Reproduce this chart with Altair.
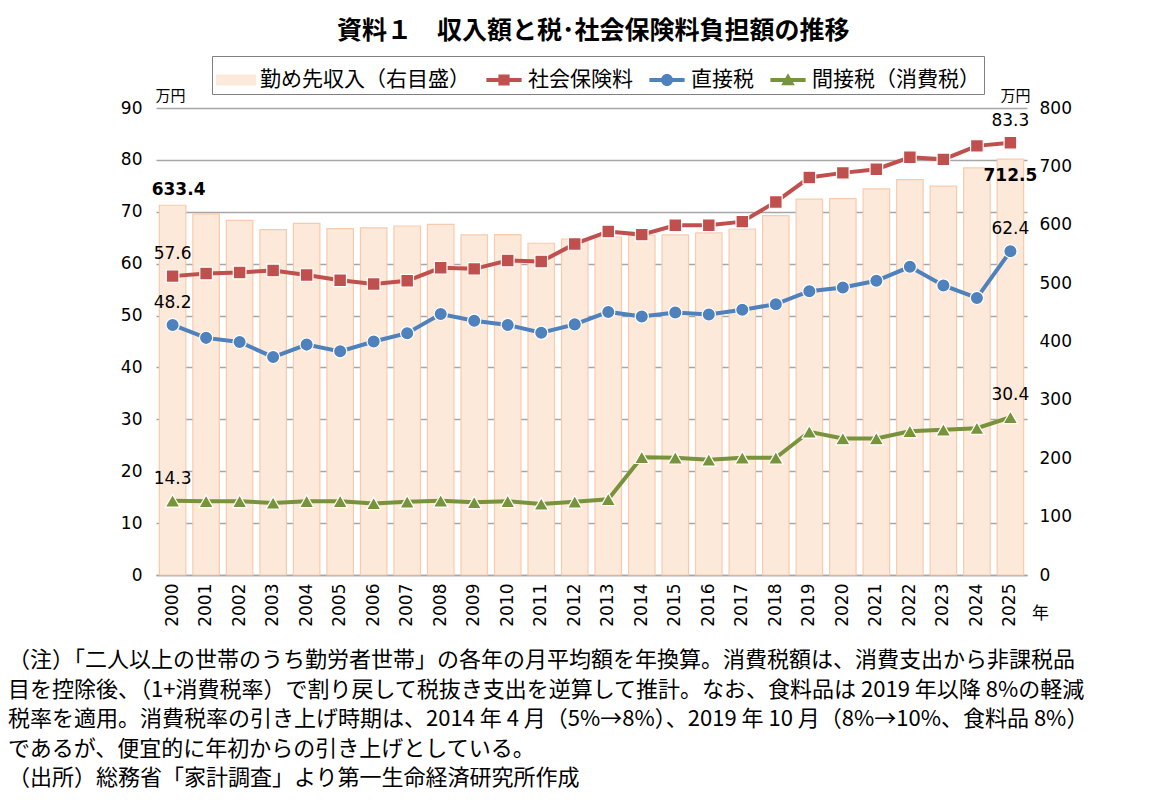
import altair as alt
import pandas as pd

years = ["2000", "2001", "2002", "2003", "2004", "2005", "2006", "2007", "2008",
         "2009", "2010", "2011", "2012", "2013", "2014", "2015", "2016", "2017",
         "2018", "2019", "2020", "2021", "2022", "2023", "2024", "2025"]

# 勤め先収入 (右目盛, 万円)
income = [633.4, 618.5, 607.6, 591.6, 602.5, 593.3, 594.5, 597.9, 600.8, 582.5,
          583.0, 568.3, 575.6, 579.0, 582.0, 582.5, 586.0, 592.7, 615.6, 644.0,
          644.7, 661.3, 677.3, 666.0, 697.3, 712.5]
# 社会保険料 (左目盛, 万円)
social = [57.6, 58.1, 58.3, 58.7, 57.8, 56.8, 56.1, 56.7, 59.2, 59.0,
          60.6, 60.4, 63.8, 66.2, 65.6, 67.4, 67.4, 68.1, 71.9, 76.6,
          77.5, 78.2, 80.5, 80.1, 82.7, 83.3]
# 直接税
direct = [48.2, 45.7, 44.9, 42.0, 44.4, 43.1, 45.0, 46.6, 50.3, 49.0,
          48.2, 46.7, 48.3, 50.7, 49.8, 50.6, 50.2, 51.1, 52.2, 54.7,
          55.4, 56.7, 59.4, 55.8, 53.4, 62.4]
# 間接税（消費税）
indirect = [14.3, 14.2, 14.2, 13.9, 14.2, 14.2, 13.8, 14.1, 14.3, 14.0,
            14.2, 13.7, 14.1, 14.6, 22.7, 22.6, 22.2, 22.6, 22.6, 27.6,
            26.3, 26.3, 27.7, 28.0, 28.3, 30.4]

series_names = ["勤め先収入（右目盛）", "社会保険料", "直接税", "間接税（消費税）"]
series_colors = ["#FDE9D9", "#C0504D", "#4F81BD", "#77933C"]
point_shapes = ["square", "circle", "triangle-up"]
point_sizes = [160, 175, 210]

# legend icons: bar box, and line + marker
legend_icons = [
    "M-1,-0.28H1V0.28H-1Z",
    "M-0.88,-0.1H0.88V0.1H-0.88Z M-0.28,-0.28H0.28V0.28H-0.28Z",
    "M-0.88,-0.1H0.88V0.1H-0.88Z M0.3,0A0.3,0.3 0 1,1 -0.3,0A0.3,0.3 0 1,1 0.3,0Z",
    "M-0.88,-0.1H0.88V0.1H-0.88Z M0,-0.34L0.34,0.26H-0.34Z",
]

title_text = "資料１　収入額と税･社会保険料負担額の推移"
notes = [
    "（注）「二人以上の世帯のうち勤労者世帯」の各年の月平均額を年換算。消費税額は、消費支出から非課税品",
    "目を控除後、（1+消費税率）で割り戻して税抜き支出を逆算して推計。なお、食料品は 2019 年以降 8%の軽減",
    "税率を適用。消費税率の引き上げ時期は、2014 年 4 月（5%→8%）、2019 年 10 月（8%→10%、食料品 8%）",
    "であるが、便宜的に年初からの引き上げとしている。",
    "（出所）総務省「家計調査」より第一生命経済研究所作成",
]

FONT = "Noto Sans CJK JP"
NUM_FONT = "DejaVu Sans"

bars_df = pd.DataFrame({"year": years, "value": income})
lines_df = pd.concat([
    pd.DataFrame({"year": years, "value": vals, "series": name})
    for name, vals in zip(series_names[1:], [social, direct, indirect])
])
legend_df = pd.DataFrame({"series": series_names})

x_axis = alt.Axis(
    title="年", titleAngle=0, titleX=884, titleY=30, titleFont=FONT,
    titleFontSize=17, titleFontWeight="normal", titleColor="black",
    labelAngle=-90, labelFont=NUM_FONT, labelFontSize=17, labelColor="black",
    labelPadding=8, ticks=False, domainColor="#A6A6A6", domainWidth=1.5, grid=False,
)
x_enc = alt.X("year:O", scale=alt.Scale(paddingInner=0.21, paddingOuter=0.1), axis=x_axis)

left_axis = alt.Axis(
    title="万円", titleAngle=0, titleX=14, titleY=-13, titleAlign="center",
    titleBaseline="middle", titleFont=FONT, titleFontSize=15,
    titleFontWeight="normal", titleColor="black",
    values=[0, 10, 20, 30, 40, 50, 60, 70, 80, 90],
    labelFont=NUM_FONT, labelFontSize=17, labelColor="black", labelPadding=14,
    ticks=False, domain=False, grid=True, gridColor="#A6A6A6", gridWidth=1.5,
)
right_axis = alt.Axis(
    orient="right", title="万円", titleAngle=0, titleX=-12, titleY=-13,
    titleAlign="center", titleBaseline="middle", titleFont=FONT,
    titleFontSize=15, titleFontWeight="normal", titleColor="black",
    values=[0, 100, 200, 300, 400, 500, 600, 700, 800],
    labelFont=NUM_FONT, labelFontSize=17, labelColor="black", labelPadding=12,
    ticks=False, domain=False, grid=False,
)
y_left = alt.Y("value:Q", scale=alt.Scale(domain=[0, 90], nice=False), axis=left_axis)
y_right = alt.Y("value:Q", scale=alt.Scale(domain=[0, 800], nice=False), axis=right_axis)

# bars on the right axis
bars = alt.Chart(bars_df).mark_bar(
    color=series_colors[0], stroke="#F8CBAD", strokeWidth=1.2
).encode(x=x_enc, y=y_right)

bar_first = alt.Chart(bars_df).transform_filter(
    alt.datum.year == years[0]
).mark_text(dy=-15, dx=6, font=NUM_FONT, fontSize=17, fontWeight="bold", color="black").encode(
    x=x_enc, y=y_right, text=alt.Text("value:Q", format=".1f")
)
bar_last = alt.Chart(bars_df).transform_filter(
    alt.datum.year == years[-1]
).mark_text(dy=17, font=NUM_FONT, fontSize=17, fontWeight="bold", color="black").encode(
    x=x_enc, y=y_right, text=alt.Text("value:Q", format=".1f")
)
right_group = alt.layer(bars, bar_first, bar_last)

# lines on the left axis, one series at a time
line_layers = []
for name, col, shp, sz in zip(series_names[1:], series_colors[1:], point_shapes, point_sizes):
    base = alt.Chart(lines_df).transform_filter(alt.datum.series == name)
    line_layers.append(base.mark_line(strokeWidth=4, color=col).encode(x=x_enc, y=y_left))
    line_layers.append(
        base.mark_point(
            shape=shp, filled=True, size=sz, color=col, stroke="white",
            strokeWidth=1.2, opacity=1
        ).encode(x=x_enc, y=y_left)
    )

line_labels = alt.Chart(lines_df).transform_filter(
    alt.FieldOneOfPredicate(field="year", oneOf=[years[0], years[-1]])
).mark_text(dy=-22, font=NUM_FONT, fontSize=17, color="black").encode(
    x=x_enc, y=y_left, text=alt.Text("value:Q", format=".1f")
)

legend = alt.Legend(
    title=None, orient="none", legendX=56, legendY=-52, direction="horizontal",
    columns=4, labelFont=FONT, labelFontSize=21, labelColor="black",
    labelLimit=400, symbolSize=1600, symbolStrokeWidth=0, symbolOpacity=1,
    strokeColor="#808080", fillColor="white", padding=4,
    columnPadding=14, labelOffset=4,
)
legend_layer = alt.Chart(legend_df).transform_filter("false").mark_point(
    filled=True, opacity=1
).encode(
    color=alt.Color("series:N", scale=alt.Scale(domain=series_names, range=series_colors), legend=legend),
    shape=alt.Shape("series:N", scale=alt.Scale(domain=series_names, range=legend_icons), legend=legend),
)

left_group = alt.layer(*line_layers, line_labels, legend_layer)

main = alt.layer(right_group, left_group).resolve_scale(y="independent").properties(
    width=871, height=467,
    title=alt.TitleParams(
        text=notes, orient="bottom", anchor="start", frame="group", dx=-148,
        offset=24, font=FONT, fontSize=22, fontWeight="normal", lineHeight=29.5,
        color="black",
    ),
)

chart = alt.vconcat(main).properties(
    title=alt.TitleParams(
        text=title_text, anchor="middle", font=FONT, fontSize=25,
        fontWeight="bold", color="black", offset=12, dx=45,
    ),
    padding={"left": 0, "top": 10, "right": 0, "bottom": 0},
).configure_view(stroke=None).configure_concat(spacing=0)

chart.save("out.html", embed_options={"renderer": "svg", "actions": False})
